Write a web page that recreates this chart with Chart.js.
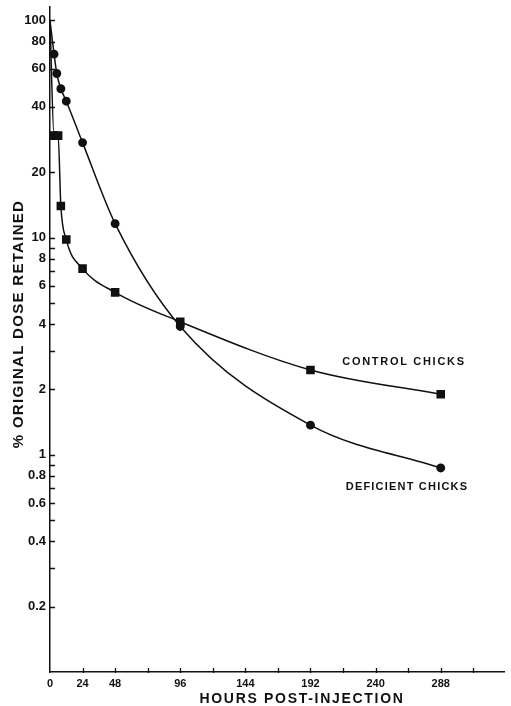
<!DOCTYPE html>
<html>
<head>
<meta charset="utf-8">
<script src="https://cdn.jsdelivr.net/npm/chart.js@4.4.1/dist/chart.umd.min.js"></script>
<style>
  html, body { margin: 0; padding: 0; background: #fff; overflow: hidden; }
  #wrap { width: 511px; height: 706px; position: relative; }
  #wrap canvas { display: block; }
</style>
</head>
<body>
<div id="wrap"><canvas id="retentionChart"></canvas></div>
<script>
// values
const controlHours = [0, 3, 6, 8, 12, 24, 48, 96, 192, 288];
const controlPct = [100, 29.5, 29.5, 14, 9.8, 7.2, 5.6, 4.1, 2.46, 1.9];
const deficientHours = [0, 3, 5, 8, 12, 24, 48, 96, 192, 288];
const deficientPct = [100, 70, 57, 48.5, 42.5, 27.4, 11.6, 3.9, 1.37, 0.87];

const xLabelHours = [0, 24, 48, 96, 144, 192, 240, 288];
const xTickHours = [24, 48, 72, 96, 120, 144, 168, 192, 216, 240, 264, 288, 312];
const yLabelValues = [0.2, 0.4, 0.6, 0.8, 1, 2, 4, 6, 8, 10, 20, 40, 60, 80, 100];
const yTickValues = [0.2, 0.3, 0.4, 0.5, 0.6, 0.7, 0.8, 0.9, 1, 2, 3, 4, 5, 6, 7, 8, 9, 10, 20, 30, 40, 60, 80, 100];

const ink = '#111';
const labelFont = '"Liberation Sans", Arial, sans-serif';

const toPoints = (hours, pct) => hours.map((h, i) => ({ x: h, y: pct[i] }));

function spacedText(ctx, text, x, y, spacing) {
    ctx.letterSpacing = spacing + 'px';
    ctx.fillText(text, x, y);
    ctx.letterSpacing = '0px';
}

// inward tick marks, axis titles and curve labels
const chartMarks = {
    id: 'chartMarks',
    afterDraw(chart) {
        const { ctx, chartArea, scales: { x, y } } = chart;
        ctx.save();
        ctx.strokeStyle = ink;
        ctx.lineWidth = 1.3;
        ctx.beginPath();
        yTickValues.forEach(v => {
            const py = Math.round(y.getPixelForValue(v)) + 0.5;
            ctx.moveTo(chartArea.left - 1, py);
            ctx.lineTo(chartArea.left + 5, py);
        });
        xTickHours.forEach(v => {
            const px = Math.round(x.getPixelForValue(v)) + 0.5;
            ctx.moveTo(px, chartArea.bottom + 1);
            ctx.lineTo(px, chartArea.bottom - 4);
        });
        ctx.stroke();

        ctx.fillStyle = ink;
        ctx.textAlign = 'center';
        ctx.textBaseline = 'middle';

        ctx.font = 'bold 14px ' + labelFont;
        spacedText(ctx, 'HOURS POST-INJECTION', 302, 699, 1.7);

        ctx.save();
        ctx.translate(19, 324);
        ctx.rotate(-Math.PI / 2);
        ctx.font = 'bold 15px ' + labelFont;
        spacedText(ctx, '% ORIGINAL DOSE RETAINED', 0, 0, 1.3);
        ctx.restore();

        ctx.font = 'bold 11px ' + labelFont;
        spacedText(ctx, 'CONTROL CHICKS', 404, 362, 1.7);
        spacedText(ctx, 'DEFICIENT CHICKS', 407, 487, 1.2);
        ctx.restore();
    }
};

new Chart(document.getElementById('retentionChart'), {
    type: 'line',
    data: {
        datasets: [{
            label: 'Control chicks',
            data: toPoints(controlHours, controlPct),
            borderColor: ink,
            backgroundColor: ink,
            borderWidth: 1.5,
            pointStyle: 'rect',
            pointRadius: ctx => ctx.dataIndex === 0 ? 0 : 5,
            cubicInterpolationMode: 'monotone'
        }, {
            label: 'Deficient chicks',
            data: toPoints(deficientHours, deficientPct),
            borderColor: ink,
            backgroundColor: ink,
            borderWidth: 1.5,
            pointStyle: 'circle',
            pointRadius: ctx => ctx.dataIndex === 0 ? 0 : 3.7,
            cubicInterpolationMode: 'monotone'
        }]
    },
    options: {
        responsive: true,
        maintainAspectRatio: false,
        animation: false,
        layout: { padding: { top: 5, right: 0, bottom: 0, left: 0 } },
        plugins: {
            legend: { display: false },
            tooltip: { enabled: false }
        },
        scales: {
            x: {
                type: 'linear',
                min: 0,
                max: 335,
                afterFit: s => {
                    s.height = 34;
                    s.paddingLeft = 0;
                    s.paddingRight = 0;
                },
                afterBuildTicks: s => { s.ticks = xLabelHours.map(v => ({ value: v })); },
                ticks: {
                    autoSkip: false,
                    maxRotation: 0,
                    padding: 5,
                    color: ink,
                    font: { family: labelFont, size: 11, weight: 'bold' },
                    callback: v => String(v)
                },
                grid: { display: true, drawOnChartArea: false, drawTicks: false },
                border: { display: true, color: ink, width: 1.5 }
            },
            y: {
                type: 'logarithmic',
                min: 0.1,
                max: 116,
                afterFit: s => {
                    s.width = 50;
                    s.paddingTop = 0;
                    s.paddingBottom = 0;
                },
                afterBuildTicks: s => { s.ticks = yLabelValues.map(v => ({ value: v })); },
                ticks: {
                    autoSkip: false,
                    padding: 4,
                    color: ink,
                    font: { family: labelFont, size: 13, weight: 'bold' },
                    callback: v => String(v)
                },
                grid: { display: true, drawOnChartArea: false, drawTicks: false },
                border: { display: true, color: ink, width: 1.5 }
            }
        }
    },
    plugins: [chartMarks]
});
</script>
</body>
</html>
